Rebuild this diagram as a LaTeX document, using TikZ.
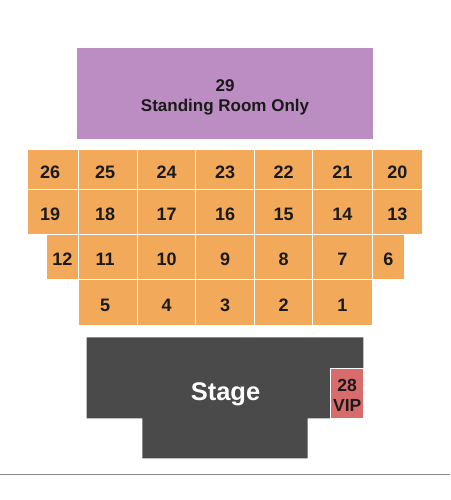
\documentclass[tikz,border=0pt]{standalone}
\usepackage{fontspec}
\setmainfont{Liberation Sans}
\definecolor{secorange}{HTML}{F2A95A}
\definecolor{srpurple}{HTML}{BC8DC2}
\definecolor{stagegray}{HTML}{4A4A4A}
\definecolor{vipred}{HTML}{D86C6C}
\definecolor{labeltext}{HTML}{1A1A1A}
\definecolor{floorline}{HTML}{8A8A8A}
\begin{document}
\begin{tikzpicture}[x=1pt,y=-1pt,
  sec/.style={fill=secorange,draw=white,line width=0.9pt,inner sep=0pt,anchor=north west,
    font=\fontsize{18}{20}\selectfont\bfseries,text=labeltext,text height=18pt,text depth=0pt},
  lft/.style={execute at end node={\kern6pt}},
  sro/.style={fill=srpurple,inner sep=0pt,anchor=north west,align=center,
    font=\fontsize{17}{20}\selectfont\bfseries,text=labeltext,text height=40.5pt,text depth=3.7pt},
  vip/.style={fill=vipred,draw=white,line width=0.8pt,inner sep=0pt,anchor=north west,align=center,
    font=\fontsize{17.5}{20.5}\selectfont\bfseries,text=labeltext,text height=36pt,text depth=0pt},
  stagelbl/.style={font=\fontsize{25.5}{28}\selectfont\bfseries,text=white}]
\useasboundingbox[fill=white] (0,0) rectangle (450,500);
% Standing room
\node[sro,minimum width=295.7pt,minimum height=90.7pt] (s29) at (77,48) {29\\Standing Room Only};
% Row 1
\node[sec,lft,minimum width=51pt,minimum height=39.4pt] (s26) at (27.3,149.3) {26};
\node[sec,lft,minimum width=58.7pt,minimum height=39.4pt] (s25) at (78.3,149.3) {25};
\node[sec,minimum width=58.3pt,minimum height=39.4pt] (s24) at (137,149.3) {24};
\node[sec,minimum width=58.7pt,minimum height=39.4pt] (s23) at (195.3,149.3) {23};
\node[sec,minimum width=58.3pt,minimum height=39.4pt] (s22) at (254,149.3) {22};
\node[sec,minimum width=59.4pt,minimum height=39.4pt] (s21) at (312.3,149.3) {21};
\node[sec,minimum width=50.6pt,minimum height=39.4pt] (s20) at (371.7,149.3) {20};
% Row 2
\node[sec,lft,minimum width=51pt,minimum height=45.3pt] (s19) at (27.3,188.7) {19};
\node[sec,lft,minimum width=58.7pt,minimum height=45.3pt] (s18) at (78.3,188.7) {18};
\node[sec,minimum width=58.3pt,minimum height=45.3pt] (s17) at (137,188.7) {17};
\node[sec,minimum width=58.7pt,minimum height=45.3pt] (s16) at (195.3,188.7) {16};
\node[sec,minimum width=58.3pt,minimum height=45.3pt] (s15) at (254,188.7) {15};
\node[sec,minimum width=59.4pt,minimum height=45.3pt] (s14) at (312.3,188.7) {14};
\node[sec,minimum width=50.6pt,minimum height=45.3pt] (s13) at (371.7,188.7) {13};
% Row 3
\node[sec,minimum width=32.6pt,minimum height=45pt] (s12) at (45.7,234) {12};
\node[sec,lft,minimum width=58.7pt,minimum height=45pt] (s11) at (78.3,234) {11};
\node[sec,minimum width=58.3pt,minimum height=45pt] (s10) at (137,234) {10};
\node[sec,minimum width=58.7pt,minimum height=45pt] (s9) at (195.3,234) {9};
\node[sec,minimum width=58.3pt,minimum height=45pt] (s8) at (254,234) {8};
\node[sec,minimum width=59.4pt,minimum height=45pt] (s7) at (312.3,234) {7};
\node[sec,minimum width=32.6pt,minimum height=45pt] (s6) at (371.7,234) {6};
% Row 4
\node[sec,lft,minimum width=58.7pt,minimum height=46.3pt] (s5) at (78.3,279) {5};
\node[sec,minimum width=58.3pt,minimum height=46.3pt] (s4) at (137,279) {4};
\node[sec,minimum width=58.7pt,minimum height=46.3pt] (s3) at (195.3,279) {3};
\node[sec,minimum width=58.3pt,minimum height=46.3pt] (s2) at (254,279) {2};
\node[sec,minimum width=59.4pt,minimum height=46.3pt] (s1) at (312.3,279) {1};
% Stage
\fill[stagegray] (86.7,337.3) -- (363.3,337.3) -- (363.3,418.3) -- (307.7,418.3) -- (307.7,458.3)
  -- (142.3,458.3) -- (142.3,418.3) -- (86.7,418.3) -- cycle;
\node[stagelbl] (stage) at (225.5,394) {Stage};
\node[vip,minimum width=33pt,minimum height=50pt] (s28) at (330.3,368.3) {28\\VIP};
% Floor line
\coordinate (fl) at (0,474.3);
\coordinate (fr) at (450,474.3);
\draw[floorline,line width=0.9pt] (fl) -- (fr);
\end{tikzpicture}
\end{document}
